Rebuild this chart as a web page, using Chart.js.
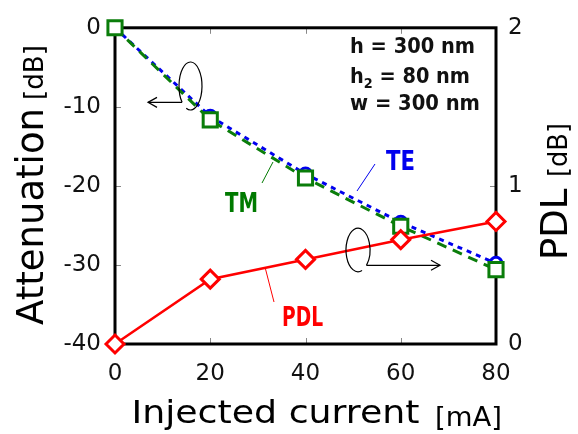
<!DOCTYPE html>
<html><head><meta charset="utf-8">
<script src="https://cdn.jsdelivr.net/npm/chart.js@4"></script>
<style>html,body{margin:0;padding:0;background:#fff}canvas{display:block}</style>
</head><body>
<canvas id="c" width="578" height="434"></canvas>
<script>
// ---- data ----
const currents = [0, 20, 40, 60, 80];          // Injected current [mA]
const teAtt    = [0, -11.2, -18.5, -24.6, -29.8]; // TE attenuation [dB]
const tmAtt    = [0, -11.65, -19.0, -25.1, -30.6]; // TM attenuation [dB]
const pdlVals  = [0, 0.41, 0.535, 0.66, 0.775];  // PDL [dB]
const xTickVals  = [0, 20, 40, 60, 80];
const yTickVals  = [-40, -30, -20, -10, 0];
const y2TickVals = [0, 1, 2];

const pts = (xs, ys) => xs.map((x, i) => ({x, y: ys[i]}));
const FAM = '"DejaVu Sans", Verdana, sans-serif';

function drawStretched(ctx, text, font, x, y, targetW, color) {
  ctx.save();
  ctx.font = font;
  ctx.fillStyle = color || '#000';
  ctx.textAlign = 'left';
  ctx.textBaseline = 'alphabetic';
  const w = ctx.measureText(text).width;
  const s = targetW ? targetW / w : 1;
  ctx.translate(x, y);
  ctx.scale(s, 1);
  ctx.fillText(text, 0, 0);
  ctx.restore();
}
function drawRotated(ctx, text, font, baseX, startY, targetW) {
  ctx.save();
  ctx.translate(baseX, startY);
  ctx.rotate(-Math.PI / 2);
  drawStretched(ctx, text, font, 0, 0, targetW, '#000');
  ctx.restore();
}
function arrowHead(ctx, x, y, dir) {
  ctx.beginPath();
  ctx.moveTo(x - dir * 9, y - 5);
  ctx.lineTo(x, y);
  ctx.lineTo(x - dir * 9, y + 5);
  ctx.stroke();
}

const decor = {
  id: 'decor',
  beforeDatasetsDraw(chart) {
    const {ctx, chartArea: a, scales} = chart;
    ctx.save();
    // inner tick marks
    ctx.strokeStyle = '#888';
    ctx.lineWidth = 1;
    ctx.beginPath();
    xTickVals.slice(1, -1).forEach(v => {
      const px = Math.round(scales.x.getPixelForValue(v)) + 0.5;
      ctx.moveTo(px, a.bottom); ctx.lineTo(px, a.bottom - 6);
      ctx.moveTo(px, a.top); ctx.lineTo(px, a.top + 6);
    });
    yTickVals.slice(1, -1).forEach(v => {
      const py = Math.round(scales.y.getPixelForValue(v)) + 0.5;
      ctx.moveTo(a.left, py); ctx.lineTo(a.left + 6, py);
    });
    y2TickVals.slice(1, -1).forEach(v => {
      const py = Math.round(scales.y2.getPixelForValue(v)) + 0.5;
      ctx.moveTo(a.right, py); ctx.lineTo(a.right - 6, py);
    });
    ctx.stroke();
    // frame
    ctx.strokeStyle = '#000';
    ctx.lineWidth = 3;
    ctx.strokeRect(a.left, a.top, a.right - a.left, a.bottom - a.top);
    ctx.restore();
  },
  afterDraw(chart) {
    const {ctx} = chart;
    ctx.save();
    // axis titles
    drawRotated(ctx, 'Attenuation', '37px ' + FAM, 43, 325, 217);
    drawRotated(ctx, '[dB]', '26px ' + FAM, 43, 100, 55);
    drawRotated(ctx, 'PDL', '37px ' + FAM, 567, 260, null);
    drawRotated(ctx, '[dB]', '26px ' + FAM, 567, 177, 54);
    drawStretched(ctx, 'Injected current', '32px ' + FAM, 131.5, 423, 288);
    drawStretched(ctx, '[mA]', '26px ' + FAM, 435, 426, 67);

    // parameter text
    const pf = 'bold 21px ' + FAM;
    drawStretched(ctx, 'h = 300 nm', pf, 350, 53, 125, '#111');
    // h2 line with subscript
    ctx.save();
    ctx.font = pf;
    const wh = ctx.measureText('h').width;
    ctx.font = 'bold 14px ' + FAM;
    const w2 = ctx.measureText('2').width;
    ctx.font = pf;
    const wr = ctx.measureText(' = 80 nm').width;
    const s = 120 / (wh + w2 + wr);
    ctx.translate(350, 83);
    ctx.scale(s, 1);
    ctx.fillStyle = '#111';
    ctx.fillText('h', 0, 0);
    ctx.font = 'bold 14px ' + FAM;
    ctx.fillText('2', wh, 5);
    ctx.font = pf;
    ctx.fillText(' = 80 nm', wh + w2, 0);
    ctx.restore();
    drawStretched(ctx, 'w = 300 nm', pf, 350, 110, 130, '#111');

    // series labels
    const lf = 'bold 27px ' + FAM;
    drawStretched(ctx, 'TE', lf, 386, 170, 29, '#0000ee');
    drawStretched(ctx, 'TM', lf, 225, 211.5, 33, '#007a00');
    drawStretched(ctx, 'PDL', lf, 282, 326, 41, '#ff0000');

    // leader lines
    ctx.lineWidth = 1;
    ctx.strokeStyle = '#0000ee';
    ctx.beginPath(); ctx.moveTo(375, 164); ctx.lineTo(357, 191); ctx.stroke();
    ctx.strokeStyle = '#007a00';
    ctx.beginPath(); ctx.moveTo(273, 162); ctx.lineTo(262, 183); ctx.stroke();
    ctx.strokeStyle = '#ff0000';
    ctx.beginPath(); ctx.moveTo(265.5, 269); ctx.lineTo(274, 302); ctx.stroke();

    // left ellipse + arrow
    ctx.strokeStyle = '#000';
    ctx.lineWidth = 1.2;
    let cx = 190.5, cy = 86, rx = 11.5, ry = 24;
    let t0 = 137 * Math.PI / 180;
    ctx.beginPath();
    ctx.ellipse(cx, cy, rx, ry, 0, t0, t0 + 2 * Math.PI * 0.93);
    ctx.stroke();
    const sx = cx + rx * Math.cos(t0), sy = cy + ry * Math.sin(t0);
    ctx.beginPath(); ctx.moveTo(sx, sy); ctx.lineTo(148, sy); ctx.stroke();
    arrowHead(ctx, 148, sy, -1);

    // right ellipse + arrow
    cx = 358; cy = 250; rx = 12; ry = 21.7;
    t0 = 45 * Math.PI / 180;
    ctx.beginPath();
    ctx.ellipse(cx, cy, rx, ry, 0, t0 - 2 * Math.PI * 0.93, t0);
    ctx.stroke();
    const ex = cx + rx * Math.cos(t0), ey = cy + ry * Math.sin(t0);
    ctx.beginPath(); ctx.moveTo(ex, ey); ctx.lineTo(440, ey); ctx.stroke();
    arrowHead(ctx, 440, ey, 1);
    ctx.restore();
  }
};

new Chart(document.getElementById('c'), {
  type: 'scatter',
  data: {
    datasets: [
      {
        label: 'PDL', data: pts(currents, pdlVals), yAxisID: 'y2', order: 1,
        showLine: true, borderColor: '#ff0000', borderWidth: 2.5,
        pointStyle: 'rectRot', pointRadius: 9, pointBorderWidth: 3,
        pointBackgroundColor: '#fff', pointBorderColor: '#ff0000', clip: false
      },
      {
        label: 'TM', data: pts(currents, tmAtt), yAxisID: 'y', order: 2,
        showLine: true, borderColor: '#0a7d0a', borderWidth: 3, borderDash: [10, 7],
        pointStyle: 'rect', pointRadius: 10, pointBorderWidth: 3,
        pointBackgroundColor: '#fff', pointBorderColor: '#0a7d0a', clip: false
      },
      {
        label: 'TE', data: pts(currents, teAtt), yAxisID: 'y', order: 3,
        showLine: true, borderColor: '#0000ee', borderWidth: 3, borderDash: [5, 5],
        pointStyle: 'circle', pointRadius: 6, pointBorderWidth: 3,
        pointBackgroundColor: '#fff', pointBorderColor: '#0000ee', clip: false
      }
    ]
  },
  options: {
    responsive: false,
    animation: false,
    devicePixelRatio: 1,
    layout: {padding: {top: 23, left: 0, right: 0, bottom: 0}},
    plugins: {legend: {display: false}, tooltip: {enabled: false}},
    scales: {
      x: {
        type: 'linear', min: 0, max: 80,
        afterFit: s => { s.height = 90; },
        afterBuildTicks: s => { s.ticks = xTickVals.map(v => ({value: v})); },
        grid: {display: false, drawTicks: false}, border: {display: false},
        ticks: {padding: 16, maxRotation: 0, autoSkip: false, color: '#111',
                font: {family: FAM, size: 23}}
      },
      y: {
        type: 'linear', position: 'left', min: -40, max: 0,
        afterFit: s => { s.width = 115; },
        afterBuildTicks: s => { s.ticks = yTickVals.map(v => ({value: v})); },
        grid: {display: false, drawTicks: false}, border: {display: false},
        ticks: {padding: 14, color: '#111', font: {family: FAM, size: 23}}
      },
      y2: {
        type: 'linear', position: 'right', min: 0, max: 2,
        afterFit: s => { s.width = 82; },
        afterBuildTicks: s => { s.ticks = y2TickVals.map(v => ({value: v})); },
        grid: {display: false, drawTicks: false}, border: {display: false},
        ticks: {padding: 12, color: '#111', font: {family: FAM, size: 23}}
      }
    }
  },
  plugins: [decor]
});
</script>
</body></html>
